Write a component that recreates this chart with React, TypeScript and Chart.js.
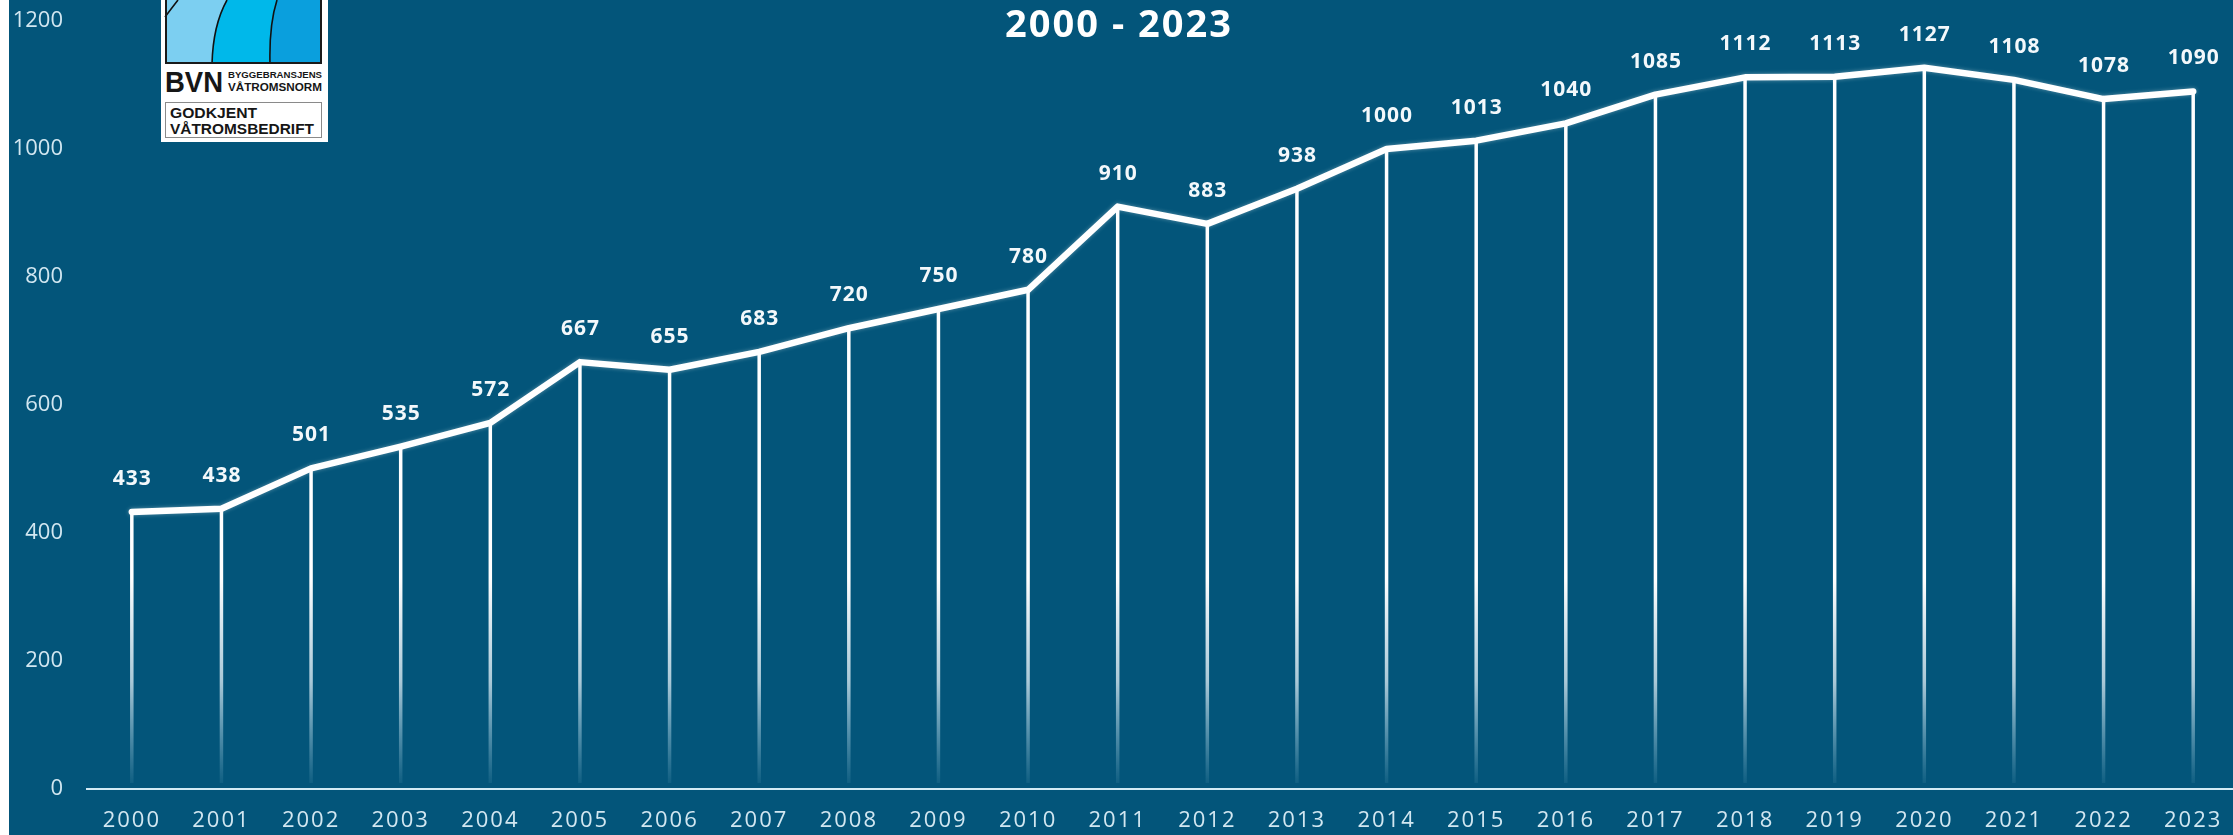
import React, { useEffect, useRef } from "react";
import { Chart, registerables } from "chart.js";

Chart.register(...registerables);

// ---- data ----
const years = [
  "2000", "2001", "2002", "2003", "2004", "2005", "2006", "2007",
  "2008", "2009", "2010", "2011", "2012", "2013", "2014", "2015",
  "2016", "2017", "2018", "2019", "2020", "2021", "2022", "2023",
];
const values = [
  433, 438, 501, 535, 572, 667, 655, 683, 720, 750, 780, 910,
  883, 938, 1000, 1013, 1040, 1085, 1112, 1113, 1127, 1108, 1078, 1090,
];
const yMin = 0;
const yMax = 1200;
const yStep = 200;
const titleText = "2000 - 2023";

// ---- style ----
const BG = "#03557a";
const TICK_COLOR = "#d2e7f1";
const FONT = '"Open Sans", "DejaVu Sans", sans-serif';
const CANVAS_W = 2240;
const CANVAS_H = 835;
const TITLE_X = 1109;
const TITLE_BASELINE = 37;

const decorPlugin = {
  id: "decor",
  beforeDraw(chart: any) {
    chart.ctx.letterSpacing = "0px";
  },
  beforeDatasetsDraw(chart: any) {
    const { ctx } = chart;
    const x = chart.scales.x;
    const y = chart.scales.y;
    const base = y.getPixelForValue(0);
    const g = ctx.createLinearGradient(0, y.getPixelForValue(330), 0, base - 4);
    g.addColorStop(0, "rgba(255,255,255,1)");
    g.addColorStop(0.5, "rgba(235,246,252,0.72)");
    g.addColorStop(1, "rgba(190,228,245,0.06)");
    ctx.save();
    ctx.strokeStyle = g;
    ctx.lineWidth = 3.5;
    values.forEach((v, i) => {
      const px = x.getPixelForValue(i);
      const py = y.getPixelForValue(v);
      ctx.beginPath();
      ctx.moveTo(px, py);
      ctx.lineTo(px, base - 6);
      ctx.stroke();
    });
    ctx.restore();
  },
  beforeDatasetDraw(chart: any) {
    const { ctx } = chart;
    ctx.save();
    ctx.shadowColor = "rgba(255,255,255,0.35)";
    ctx.shadowBlur = 4;
  },
  afterDatasetDraw(chart: any) {
    chart.ctx.restore();
  },
  afterDatasetsDraw(chart: any) {
    const { ctx } = chart;
    const meta = chart.getDatasetMeta(0);
    ctx.save();
    ctx.letterSpacing = "1px";
    ctx.font = `bold 21px ${FONT}`;
    ctx.fillStyle = "#f3f8fb";
    ctx.textAlign = "center";
    ctx.textBaseline = "alphabetic";
    meta.data.forEach((pt: any, i: number) => {
      ctx.fillText(String(values[i]), pt.x + 0.5, pt.y - 27);
    });
    ctx.restore();
    // x-axis tick labels (drawn on a later layer) get wider spacing
    ctx.letterSpacing = "2px";
  },
  afterDraw(chart: any) {
    const { ctx } = chart;
    ctx.save();
    ctx.letterSpacing = "2px";
    ctx.font = `bold 38px ${FONT}`;
    ctx.fillStyle = "#ffffff";
    ctx.textAlign = "center";
    ctx.textBaseline = "alphabetic";
    ctx.fillText(titleText, TITLE_X + 1, TITLE_BASELINE);
    ctx.restore();
    ctx.letterSpacing = "0px";
  },
};

function Logo() {
  const ff = "'Liberation Sans', Arial, sans-serif";
  return (
    <svg
      width={167}
      height={142}
      viewBox="0 0 167 142"
      style={{ position: "fixed", left: 161, top: 0, zIndex: 2, display: "block" }}
    >
      <rect x={0} y={0} width={167} height={142} fill="#ffffff" />
      <g transform="translate(4,0)">
        <path d="M0 0 H62 Q48 25 47 64 H0 Z" fill="#7ccff1" />
        <path d="M62 0 H112 Q104 25 105 64 H47 Q48 25 62 0 Z" fill="#00b8ea" />
        <path d="M112 0 H157 V64 H105 Q104 25 112 0 Z" fill="#0a9fdd" />
        <path d="M13 0 Q6 9 0 17" fill="none" stroke="#111" strokeWidth={1.6} />
        <path d="M62 0 Q48 25 47 64" fill="none" stroke="#111" strokeWidth={1.6} />
        <path d="M112 0 Q104 25 105 64" fill="none" stroke="#111" strokeWidth={1.6} />
        <path d="M1 0 V63 H156 V0" fill="none" stroke="#1a1a1a" strokeWidth={2} />
      </g>
      <text x={4} y={92} fontFamily={ff} fontWeight="bold" fontSize={30} fill="#161616"
        textLength={58} lengthAdjust="spacingAndGlyphs">BVN</text>
      <text x={67} y={77.5} fontFamily={ff} fontWeight="bold" fontSize={9.5} fill="#161616"
        textLength={94} lengthAdjust="spacingAndGlyphs">BYGGEBRANSJENS</text>
      <text x={67} y={91} fontFamily={ff} fontWeight="bold" fontSize={11.5} fill="#161616"
        textLength={94} lengthAdjust="spacingAndGlyphs">VÅTROMSNORM</text>
      <rect x={4.5} y={102.5} width={156} height={35} fill="none" stroke="#8a8a8a" strokeWidth={1} />
      <text x={9} y={118} fontFamily={ff} fontWeight="bold" fontSize={15} fill="#161616"
        textLength={87} lengthAdjust="spacingAndGlyphs">GODKJENT</text>
      <text x={9} y={133.5} fontFamily={ff} fontWeight="bold" fontSize={15} fill="#161616"
        textLength={144} lengthAdjust="spacingAndGlyphs">VÅTROMSBEDRIFT</text>
    </svg>
  );
}

export default function App() {
  const canvasRef = useRef<HTMLCanvasElement | null>(null);

  useEffect(() => {
    const canvas = canvasRef.current;
    if (!canvas) return;
    const chart = new Chart(canvas, {
      type: "line",
      data: {
        labels: years,
        datasets: [
          {
            data: values,
            borderColor: "#ffffff",
            borderWidth: 6.5,
            borderJoinStyle: "round",
            borderCapStyle: "round",
            pointRadius: 0,
            pointHoverRadius: 0,
            tension: 0,
            fill: false,
          },
        ],
      },
      options: {
        responsive: false,
        animation: false,
        events: [],
        layout: { padding: { top: 21, right: 11, bottom: 0, left: 0 } },
        plugins: {
          legend: { display: false },
          tooltip: { enabled: false },
          title: { display: false },
        },
        scales: {
          x: {
            type: "category",
            offset: true,
            grid: { display: false, drawTicks: false },
            border: { display: true, color: "#d3eaf4", width: 2 },
            ticks: {
              z: 1,
              color: TICK_COLOR,
              font: { family: FONT, size: 22 },
              padding: 19,
              maxRotation: 0,
              autoSkip: false,
            },
            afterFit: (s: any) => {
              s.height = 46;
              s.paddingLeft = 0;
              s.paddingRight = 0;
            },
          },
          y: {
            min: yMin,
            max: yMax,
            grid: { display: false, drawTicks: false },
            border: { display: false },
            ticks: {
              stepSize: yStep,
              color: TICK_COLOR,
              font: { family: FONT, size: 22 },
              padding: 24,
              callback: (v: any) => String(v),
            },
            afterFit: (s: any) => {
              s.width = 78;
              s.paddingTop = 0;
              s.paddingBottom = 0;
            },
          },
        },
      },
      plugins: [decorPlugin],
    } as any);
    return () => chart.destroy();
  }, []);

  return (
    <>
      <div
        style={{
          position: "fixed",
          left: 9,
          top: 0,
          width: 2233 - 9,
          height: CANVAS_H,
          overflow: "hidden",
          background: BG,
        }}
      >
        <canvas
          ref={canvasRef}
          width={CANVAS_W}
          height={CANVAS_H}
          style={{ display: "block", width: CANVAS_W, height: CANVAS_H }}
        />
      </div>
      <Logo />
    </>
  );
}
